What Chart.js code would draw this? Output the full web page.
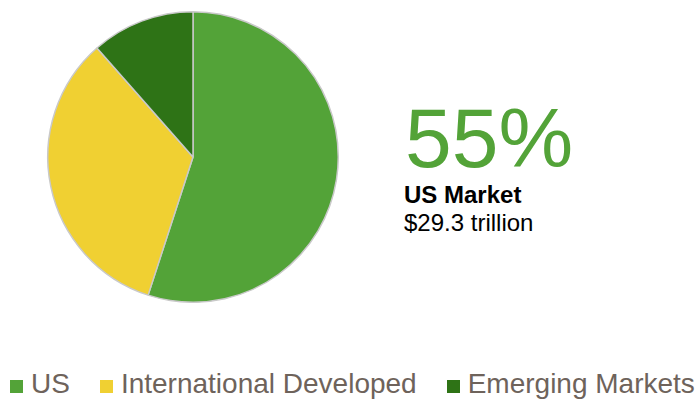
<!DOCTYPE html>
<html>
<head>
<meta charset="utf-8">
<script src="https://cdn.jsdelivr.net/npm/chart.js@4.4.0/dist/chart.umd.min.js"></script>
<style>
  html, body { margin: 0; padding: 0; background: #fff; }
  body { width: 700px; height: 402px; position: relative; overflow: hidden; font-family: "Liberation Sans", Arial, sans-serif; }
  #pieBox { position: absolute; left: 0; top: 11px; width: 386px; height: 292px; }
  #big { position: absolute; left: 405px; top: 96px; font-size: 84px; line-height: 84px; color: #53a338; }
  #sub1 { position: absolute; left: 404px; top: 182px; font-size: 24px; line-height: 26px; font-weight: bold; color: #000; }
  #sub2 { position: absolute; left: 404px; top: 210px; font-size: 24px; line-height: 26px; color: #000; }
  #legend { position: absolute; left: 10px; top: 370px; display: flex; white-space: nowrap; }
  .item { display: flex; align-items: flex-end; margin-right: 30px; font-size: 28px; line-height: 27px; color: #6e635b; }
  .box { width: 13px; height: 13px; margin-right: 8px; margin-bottom: 4px; }
</style>
</head>
<body>
<div id="pieBox"><canvas id="pie"></canvas></div>
<div id="big"></div>
<div id="sub1"></div>
<div id="sub2"></div>
<div id="legend"></div>
<script>
// data
const labels = ['US', 'International Developed', 'Emerging Markets'];
const shares = [55, 33.5, 11.5];
const colors = ['#53a338', '#f0d032', '#2e7316'];
const headlineLabel = 'US Market';
const headlineValue = '$29.3 trillion';

document.getElementById('big').textContent = shares[0] + '%';
document.getElementById('sub1').textContent = headlineLabel;
document.getElementById('sub2').textContent = headlineValue;

const chart = new Chart(document.getElementById('pie').getContext('2d'), {
    type: 'pie',
    data: {
        labels: labels,
        datasets: [{
            data: shares,
            backgroundColor: colors,
            borderColor: '#c9c9c9',
            borderWidth: 1.5
        }]
    },
    options: {
        responsive: true,
        maintainAspectRatio: false,
        animation: false,
        events: [],
        layout: { padding: 0 },
        plugins: {
            legend: { display: false },
            tooltip: { enabled: false }
        }
    }
});

// legend built from the chart's own label items
const legend = document.getElementById('legend');
chart.options.plugins.legend.labels.generateLabels(chart).forEach(function (item) {
    const el = document.createElement('div');
    el.className = 'item';
    const box = document.createElement('span');
    box.className = 'box';
    box.style.background = item.fillStyle;
    el.appendChild(box);
    el.appendChild(document.createTextNode(item.text));
    legend.appendChild(el);
});
</script>
</body>
</html>
